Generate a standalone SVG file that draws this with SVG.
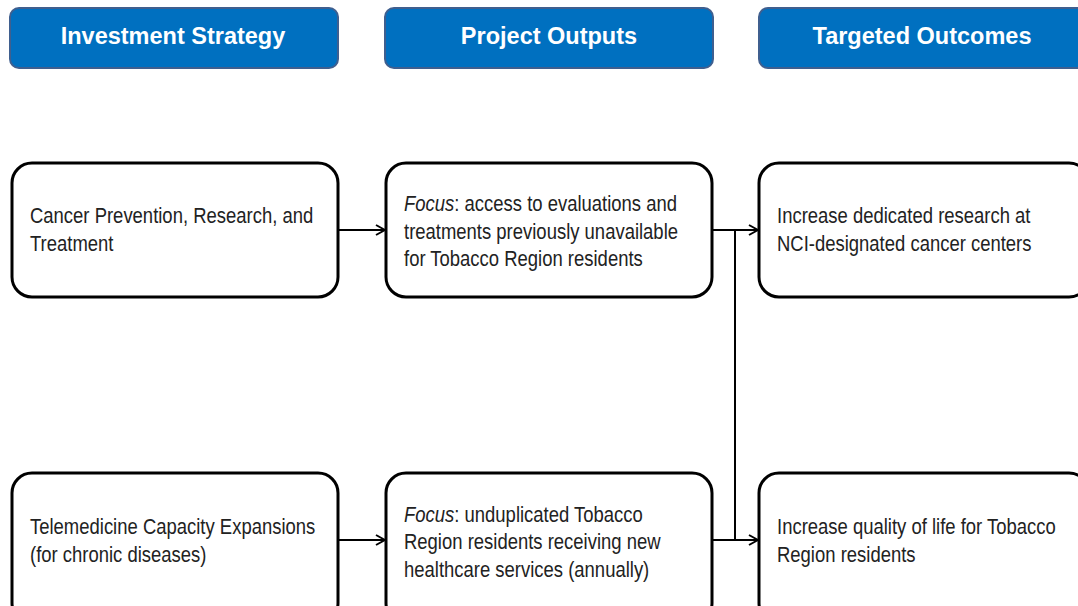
<svg xmlns="http://www.w3.org/2000/svg" width="1078" height="606" viewBox="0 0 1078 606">
<style>
.hdr{fill:#0070C0;stroke:#3F5F8F;stroke-width:2}
.ht{font-family:"Liberation Sans",Arial,sans-serif;font-weight:bold;font-size:23.5px;fill:#fff;text-anchor:middle}
.box{fill:#fff;stroke:#000;stroke-width:3}
.t{font-family:"Liberation Sans",Arial,sans-serif;font-size:22px;fill:#222}
.c{fill:none;stroke:#000;stroke-width:2}
</style>
<defs>
<marker id="ar" viewBox="0 0 12 12" refX="11" refY="6" markerWidth="12" markerHeight="12" markerUnits="userSpaceOnUse" orient="auto">
<path d="M2,1 L11,6 L2,11" fill="none" stroke="#000" stroke-width="2"/>
</marker>
</defs>
<rect width="1078" height="606" fill="#fff"/>
<g id="h1"><rect class="hdr" x="10" y="8" width="328" height="60" rx="9"/><text class="ht" x="173" y="44">Investment Strategy</text></g>
<g id="h2"><rect class="hdr" x="385" y="8" width="328" height="60" rx="9"/><text class="ht" x="549" y="44">Project Outputs</text></g>
<g id="h3"><rect class="hdr" x="759" y="8" width="330" height="60" rx="9"/><text class="ht" x="922" y="44">Targeted Outcomes</text></g>
<g id="n1"><rect class="box" x="12" y="163" width="326" height="134" rx="20"/><g transform="translate(30,0) scale(0.84,1)"><text class="t" x="0" y="223">Cancer Prevention, Research, and</text><text class="t" x="0" y="251">Treatment</text></g></g>
<g id="n2"><rect class="box" x="386" y="163" width="326" height="134" rx="20"/><g transform="translate(404,0) scale(0.84,1)"><text class="t" x="0" y="211"><tspan font-style="italic">Focus</tspan>: access to evaluations and</text><text class="t" x="0" y="239">treatments  previously unavailable</text><text class="t" x="0" y="266">for  Tobacco Region residents</text></g></g>
<g id="n3"><rect class="box" x="759" y="163" width="330" height="134" rx="20"/><g transform="translate(777,0) scale(0.84,1)"><text class="t" x="0" y="223">Increase dedicated research at</text><text class="t" x="0" y="251">NCI-designated cancer centers</text></g></g>
<g id="n4"><rect class="box" x="12" y="473" width="326" height="150" rx="20"/><g transform="translate(30,0) scale(0.84,1)"><text class="t" x="0" y="534">Telemedicine Capacity Expansions</text><text class="t" x="0" y="562">(for chronic diseases)</text></g></g>
<g id="n5"><rect class="box" x="386" y="473" width="326" height="150" rx="20"/><g transform="translate(404,0) scale(0.84,1)"><text class="t" x="0" y="522"><tspan font-style="italic">Focus</tspan>: unduplicated Tobacco</text><text class="t" x="0" y="549">Region residents receiving new</text><text class="t" x="0" y="577">healthcare services (annually)</text></g></g>
<g id="n6"><rect class="box" x="759" y="473" width="330" height="150" rx="20"/><g transform="translate(777,0) scale(0.84,1)"><text class="t" x="0" y="534">Increase quality  of life  for Tobacco</text><text class="t" x="0" y="562">Region residents</text></g></g>
<g id="connectors">
<line class="c" x1="338" y1="230" x2="385" y2="230" marker-end="url(#ar)"/>
<line class="c" x1="338" y1="540" x2="385" y2="540" marker-end="url(#ar)"/>
<line class="c" x1="712" y1="230" x2="758" y2="230" marker-end="url(#ar)"/>
<line class="c" x1="712" y1="540" x2="758" y2="540" marker-end="url(#ar)"/>
<line class="c" x1="735" y1="230" x2="735" y2="540"/>
</g>
</svg>
